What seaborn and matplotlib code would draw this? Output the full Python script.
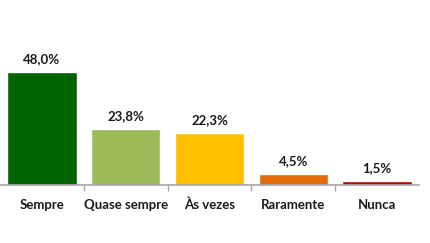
import matplotlib
matplotlib.use("Agg")
import matplotlib.pyplot as plt
import seaborn as sns
import pandas as pd

categories = ["Sempre", "Quase sempre", "Às vezes", "Raramente", "Nunca"]
values = [48.0, 23.8, 22.3, 4.5, 1.5]
labels = ["48,0%", "23,8%", "22,3%", "4,5%", "1,5%"]
colors = ["#006400", "#9BBB59", "#FFC000", "#E46C0A", "#C00000"]

sns.set_style("white")
plt.rcParams['font.family'] = ['Lato', 'DejaVu Sans']

df = pd.DataFrame({"cat": categories, "val": values})

fig = plt.figure(figsize=(4.3, 2.43), dpi=100)
ax = fig.add_axes([0.0, 1 - 185 / 243, 419 / 430, 185 / 243])
sns.barplot(data=df, x="cat", y="val", hue="cat", palette=colors, legend=False,
            width=0.83, saturation=1, ax=ax)

ax.set_xlim(-0.5, 4.5)
ax.set_ylim(0, 78.7)
for i, (v, t) in enumerate(zip(values, labels)):
    ax.annotate(t, (i, v), xytext=(0, 13), textcoords="offset points" if False else "offset pixels",
                ha="center", va="center", fontsize=9.5, fontweight="bold", color="#1a1a1a")

ax.set_xlabel("")
ax.set_ylabel("")
ax.set_yticks([])
ax.set_xticks(range(5))
ax.set_xticklabels(categories, fontsize=9.5, fontweight="bold", color="#1a1a1a")
ax.set_xticks([0.5, 1.5, 2.5, 3.5], minor=True)
ax.tick_params(axis="x", which="major", length=0, pad=10)
ax.tick_params(axis="x", which="minor", length=4, width=1, color="#A6A6A6", direction="out", bottom=True)
for s in ["top", "right", "left"]:
    ax.spines[s].set_visible(False)
ax.spines["bottom"].set_color("#A6A6A6")
ax.spines["bottom"].set_linewidth(1.2)
ax.set_facecolor("white")

fig.savefig("out.png", dpi=100, facecolor="white")
